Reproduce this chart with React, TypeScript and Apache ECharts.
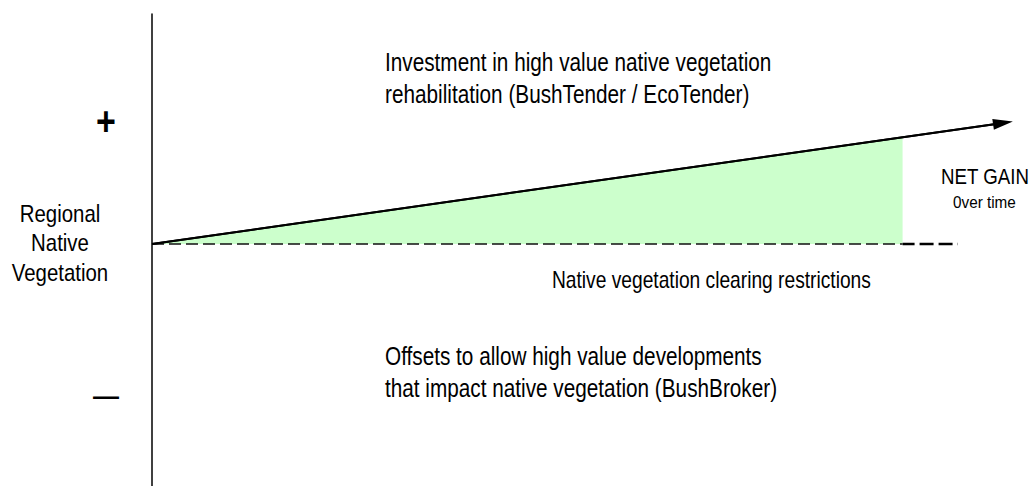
import React, { useEffect, useRef } from "react";
import * as echarts from "echarts";

// Time axis (left → right) and regional native vegetation level (baseline = 0)
const timeRange = [0, 10];
const valueRange = [-2, 1.9];

// Net gain trajectory (arrow) and the shaded gain area
const gainLine: number[][] = [
  [0, 0],
  [10, 1.0],
];
const gainArea: number[][] = [
  [0, 0],
  [8.82, 0.88],
];
// Clearing-restriction baseline (dashed)
const baselineUnderArea: number[][] = [
  [0, 0],
  [8.82, 0],
];
const baselineTail: number[][] = [
  [8.82, 0],
  [9.47, 0],
];

const axisSigns = ["+", "—"];
const leftLabel = ["Regional", "Native", "Vegetation"];
const topText = [
  "Investment in high value native vegetation",
  "rehabilitation (BushTender / EcoTender)",
];
const middleText = "Native vegetation clearing restrictions";
const bottomText = [
  "Offsets to allow high value developments",
  "that impact native vegetation (BushBroker)",
];
const gainText = ["NET GAIN", "0ver time"];

const FONT = '"Liberation Sans", Arial, Helvetica, sans-serif';

function txt(
  text: string,
  x: number,
  y: number,
  size: number,
  scaleX: number,
  align: string,
  weight: string = "normal"
) {
  return {
    type: "text",
    x,
    y,
    scaleX,
    silent: true,
    style: {
      text,
      fill: "#000",
      font: `${weight} ${size}px ${FONT}`,
      align,
      textAlign: align,
      verticalAlign: "middle",
      textVerticalAlign: "middle",
    },
  };
}

export default function App() {
  const ref = useRef<HTMLDivElement>(null);

  useEffect(() => {
    if (!ref.current) return;
    const chart = echarts.init(ref.current, undefined, { renderer: "svg" });

    const graphics: any[] = [
      txt(axisSigns[0], 106, 121, 40, 0.85, "center", "bold"),
      txt(axisSigns[1], 106, 396, 26, 1, "center", "bold"),
      txt(leftLabel[0], 60, 214, 24, 0.85, "center"),
      txt(leftLabel[1], 60, 243, 24, 0.85, "center"),
      txt(leftLabel[2], 60, 273, 24, 0.85, "center"),
      txt(topText[0], 385, 62, 25, 0.83, "left"),
      txt(topText[1], 385, 94, 25, 0.83, "left"),
      txt(middleText, 552, 280, 24, 0.8, "left"),
      txt(bottomText[0], 385, 356, 25, 0.83, "left"),
      txt(bottomText[1], 385, 388, 25, 0.83, "left"),
      txt(gainText[0], 941, 176, 22, 0.85, "left"),
      txt(gainText[1], 953, 202, 17, 0.9, "left"),
    ];

    chart.setOption({
      animation: false,
      backgroundColor: "#ffffff",
      grid: { left: 152, right: 29, top: 14, bottom: 0 },
      xAxis: {
        type: "value",
        min: timeRange[0],
        max: timeRange[1],
        show: false,
      },
      yAxis: {
        type: "value",
        min: valueRange[0],
        max: valueRange[1],
        axisLine: { show: true, onZero: false, lineStyle: { color: "#000", width: 1.5 } },
        axisTick: { show: false },
        axisLabel: { show: false },
        splitLine: { show: false },
      },
      series: [
        {
          type: "line",
          data: gainArea,
          symbol: "none",
          silent: true,
          lineStyle: { width: 0, color: "#ccffcc" },
          areaStyle: { color: "#ccffcc", opacity: 1, origin: 0 },
          z: 1,
        },
        {
          type: "line",
          data: baselineUnderArea,
          symbol: "none",
          silent: true,
          lineStyle: { color: "#111", width: 1.5, type: [12, 5] },
          z: 2,
        },
        {
          type: "line",
          data: baselineTail,
          symbol: "none",
          silent: true,
          lineStyle: { color: "#000", width: 2.5, type: [14, 5], dashOffset: 2 },
          z: 2,
        },
        {
          type: "line",
          data: gainLine,
          symbol: "none",
          silent: true,
          lineStyle: { color: "#000", width: 2 },
          z: 3,
          markLine: {
            silent: true,
            symbol: ["none", "triangle"],
            symbolSize: [11, 20],
            label: { show: false },
            emphasis: { disabled: true },
            lineStyle: { color: "#000", width: 2, type: "solid" },
            data: [[{ coord: gainLine[0] }, { coord: gainLine[1] }]],
          },
        },
      ],
      graphic: graphics,
    });

    return () => chart.dispose();
  }, []);

  return (
    <div
      ref={ref}
      style={{ position: "absolute", left: 0, top: 0, width: 1032, height: 486 }}
    />
  );
}
